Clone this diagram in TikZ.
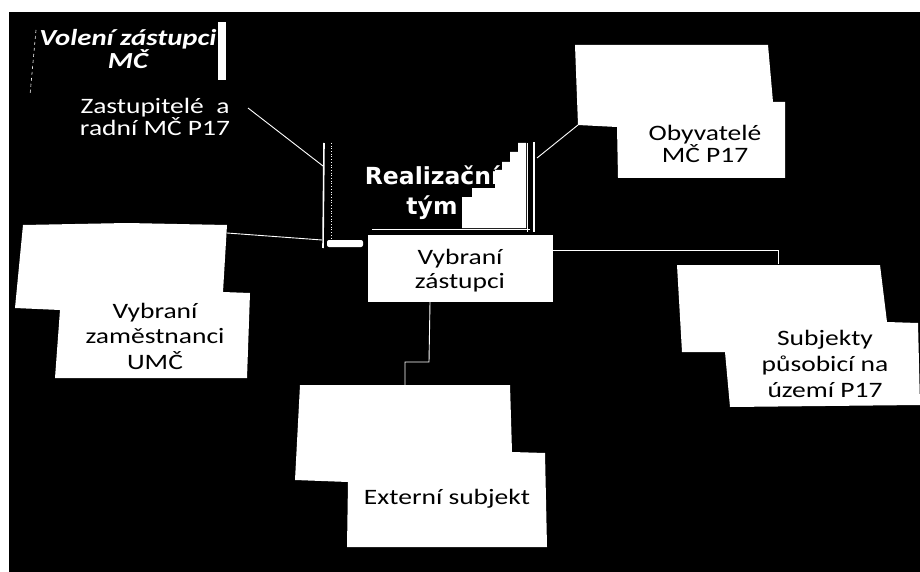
\documentclass[tikz,border=0pt]{standalone}
\usepackage{fontspec}
\setmainfont{Carlito}[FakeStretch=1.25]
\newfontfamily\heavyfont{DejaVu Sans}[FakeStretch=1.0]
\begin{document}
\begin{tikzpicture}[x=1pt,y=-1pt,
  boxfill/.style={fill=white},
  lbl/.style={text=black, align=center, inner sep=0pt, font=\fontsize{22}{24}\selectfont},
  wlbl/.style={text=white, align=center, inner sep=0pt},
  wire/.style={draw=white, line width=0.9pt}]
\useasboundingbox (0,0) rectangle (920,572);
\fill[white] (0,0) rectangle (920,572);
\fill[black] (9,12) rectangle (920,572);

% --- Volení zástupci MČ
\node[wlbl, font=\fontsize{23}{22}\selectfont\bfseries\itshape] (volt) at (128,49) {Volení zástupci\\MČ};
\fill[white] (218,22) rectangle (226,80);
\draw[white, line width=0.6pt, dashed] (36,30) -- (30,95);

% --- Zastupitelé a radní
\node[wlbl, font=\fontsize{22}{21}\selectfont] (zast) at (155,117) {Zastupitelé \ a\\radní MČ P17};

% --- Realizační tým group
\coordinate (rv-top) at (324,143);
\coordinate (rv-bot) at (323,248);
\draw[white, line width=1.6pt] (rv-top) -- (rv-bot);
\draw[white, line width=0.7pt, dotted] (331,143) -- (331,240);
\fill[white, rounded corners=2pt] (327,240) rectangle (363,247);
\draw[white, line width=0.9pt] (372,229) -- (530,229);
\fill[white] (462,228) -- (462,197) -- (472,197) -- (472,188) -- (495,188) -- (495,170)
  -- (502,170) -- (502,162) -- (510,162) -- (510,152) -- (518,152) -- (518,143) -- (526,143) -- (526,228) -- cycle;
\draw[white, line width=1pt] (527,143) -- (527,232);
\draw[white, line width=2.4pt] (534,142) -- (534,232);
\node[wlbl, font=\fontsize{23.5}{30}\selectfont\heavyfont\bfseries] (real) at (432,193) {Realizační\\tým};

% --- Vybraní zástupci
\fill[white] (368,235) rectangle (553,302);
\node[lbl] (vz) at (460,271) {Vybraní\\zástupci};

% --- Obyvatelé MČ P17
\fill[white] (575,45) -- (768,45) -- (773,102) -- (785,102) -- (785,178) -- (618,178) -- (617,127) -- (578,125) -- cycle;
\node[lbl, font=\fontsize{22}{22}\selectfont] (obyv) at (705,144) {Obyvatelé\\MČ P17};

% --- Vybraní zaměstnanci UMČ
\fill[white] (23,225) -- (127,223) -- (227,225) -- (223,292) -- (250,293) -- (247,378) -- (55,378) -- (60,310) -- (15,308) -- cycle;
\node[lbl, font=\fontsize{22}{25.5}\selectfont] (zam) at (155,336) {Vybraní\\zaměstnanci\\UMČ};

% --- Subjekty působicí na území P17
\fill[white] (677,265) -- (880,265) -- (887,322) -- (918,323) -- (920,405) -- (730,407) -- (725,352) -- (682,352) -- cycle;
\node[lbl, font=\fontsize{22}{26}\selectfont] (subj) at (825,364) {Subjekty\\působicí na\\území P17};

% --- Externí subjekt
\fill[white] (300,385) -- (510,385) -- (512,452) -- (545,453) -- (547,547) -- (347,547) -- (348,482) -- (295,480) -- cycle;
\node[lbl] (ext) at (447,499) {Externí subjekt};

% --- connectors
\coordinate (zast-r) at (248,108);
\coordinate (rv-mid) at (323,166);
\draw[wire] (zast-r) -- (rv-mid);
\coordinate (zam-tr) at (227,233);
\coordinate (rv-low) at (322,240);
\draw[wire] (zam-tr) -- (rv-low);
\coordinate (real-r) at (537,158);
\coordinate (obyv-l) at (578,125);
\draw[wire] (real-r) -- (obyv-l);
\coordinate (vz-r) at (553,250);
\coordinate (subj-t) at (778,264);
\draw[wire] (vz-r) -- (778,250) -- (subj-t);
\coordinate (vz-b) at (430,302);
\coordinate (ext-t) at (405,385);
\draw[wire] (vz-b) -- (429,362) -- (405,362) -- (ext-t);
\end{tikzpicture}
\end{document}
